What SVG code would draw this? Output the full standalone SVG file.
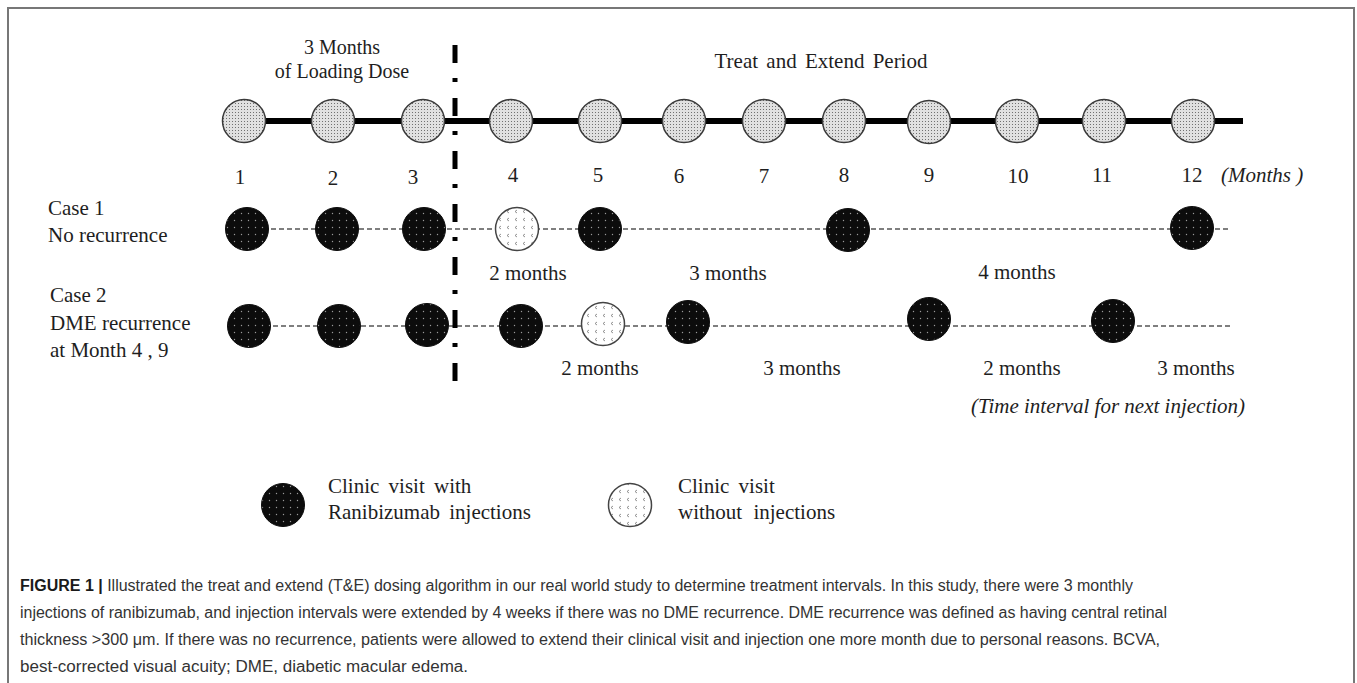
<svg xmlns="http://www.w3.org/2000/svg" width="1357" height="683" viewBox="0 0 1357 683">
<defs>
<pattern id="pLight" width="3" height="3" patternUnits="userSpaceOnUse">
<rect width="3" height="3" fill="#e0e0e0"/>
<rect x="1" y="1" width="1" height="1" fill="#707070"/>
</pattern>
<pattern id="pDark" width="7" height="7" patternUnits="userSpaceOnUse">
<rect width="7" height="7" fill="#0c0c0c"/>
<circle cx="3.5" cy="3.5" r="0.7" fill="#9a9a9a"/>
</pattern>
<pattern id="pHollow" width="8" height="8" patternUnits="userSpaceOnUse">
<rect width="8" height="8" fill="#fff"/>
<path d="M5,2 L3,3.5 L5,5" fill="none" stroke="#777" stroke-width="0.8"/>
</pattern>
</defs>
<style>
.t{font-family:"Liberation Serif","Times New Roman",serif;font-size:21px;fill:#1e1e1e}
.ti{font-family:"Liberation Serif","Times New Roman",serif;font-size:21px;font-style:italic;fill:#1e1e1e}
.hd{font-size:20px}
.cap{font-family:"Liberation Sans",Arial,sans-serif;font-size:16px;fill:#333}
.capb{font-weight:bold;fill:#1a1a1a}
.lt{fill:url(#pLight);stroke:#3a3a3a;stroke-width:1.5}
.dk{fill:url(#pDark);stroke:#0c0c0c;stroke-width:1}
.ho{fill:url(#pHollow);stroke:#444;stroke-width:1.5}
.thick{stroke:#000;stroke-width:6;fill:none}
.dash{stroke:#555;stroke-width:1.5;stroke-dasharray:5 3;fill:none}
.sep{stroke:#000;stroke-width:5;stroke-dasharray:18 15 4 16;fill:none}
</style>
<rect width="1357" height="683" fill="#fff"/>
<path d="M8,683 V8 H1354 V683" fill="none" stroke="#777" stroke-width="2"/>

<g id="connectors">
<line class="thick" x1="244" y1="121" x2="1243" y2="121"/>
<line class="dash" x1="247" y1="229" x2="1230" y2="229"/>
<line class="dash" x1="249" y1="326" x2="1230" y2="326"/>
<line class="sep" x1="455" y1="45" x2="455" y2="395"/>
</g>

<g id="headers">
<text class="t hd" x="342" y="54" text-anchor="middle">3 Months</text>
<text class="t hd" x="342" y="78" text-anchor="middle">of Loading  Dose</text>
<text class="t" x="821" y="68" text-anchor="middle" style="word-spacing:3px">Treat  and Extend  Period</text>
</g>

<g id="timeline">
<circle class="lt" cx="244" cy="121" r="21.5"/>
<circle class="lt" cx="333" cy="121" r="21.5"/>
<circle class="lt" cx="423" cy="121" r="21.5"/>
<circle class="lt" cx="511" cy="121" r="21.5"/>
<circle class="lt" cx="600" cy="121" r="21.5"/>
<circle class="lt" cx="684" cy="121" r="21.5"/>
<circle class="lt" cx="764" cy="121" r="21.5"/>
<circle class="lt" cx="844" cy="121" r="21.5"/>
<circle class="lt" cx="929" cy="122" r="21.5"/>
<circle class="lt" cx="1017" cy="121" r="21.5"/>
<circle class="lt" cx="1104" cy="121" r="21.5"/>
<circle class="lt" cx="1193" cy="121" r="21.5"/>
</g>

<g id="month-labels">
<text class="t" x="240" y="184" text-anchor="middle">1</text>
<text class="t" x="333" y="185" text-anchor="middle">2</text>
<text class="t" x="413" y="184" text-anchor="middle">3</text>
<text class="t" x="513" y="182" text-anchor="middle">4</text>
<text class="t" x="598" y="182" text-anchor="middle">5</text>
<text class="t" x="679" y="183" text-anchor="middle">6</text>
<text class="t" x="764" y="183" text-anchor="middle">7</text>
<text class="t" x="844" y="182" text-anchor="middle">8</text>
<text class="t" x="929" y="182" text-anchor="middle">9</text>
<text class="t" x="1018" y="183" text-anchor="middle">10</text>
<text class="t" x="1102" y="182" text-anchor="middle">11</text>
<text class="t" x="1192" y="182" text-anchor="middle">12</text>
<text class="ti" x="1221" y="182">(Months )</text>
</g>

<g id="case1">
<text class="t" x="48" y="215">Case 1</text>
<text class="t" x="48" y="242">No recurrence</text>
<circle class="dk" cx="247" cy="229" r="21.5"/>
<circle class="dk" cx="337" cy="229" r="21.5"/>
<circle class="dk" cx="424" cy="229" r="21.5"/>
<circle class="ho" cx="517" cy="229" r="21.5"/>
<circle class="dk" cx="600" cy="229" r="21.5"/>
<circle class="dk" cx="848" cy="230" r="21.5"/>
<circle class="dk" cx="1192" cy="228" r="21.5"/>
<text class="t" x="528" y="280" text-anchor="middle">2 months</text>
<text class="t" x="728" y="280" text-anchor="middle">3 months</text>
<text class="t" x="1017" y="279" text-anchor="middle">4 months</text>
</g>

<g id="case2">
<text class="t" x="50" y="302">Case 2</text>
<text class="t" x="50" y="330">DME  recurrence</text>
<text class="t" x="50" y="357">at Month  4 , 9</text>
<circle class="dk" cx="249" cy="326" r="21.5"/>
<circle class="dk" cx="339" cy="326" r="21.5"/>
<circle class="dk" cx="427" cy="325" r="21.5"/>
<circle class="dk" cx="521" cy="326" r="21.5"/>
<circle class="ho" cx="603" cy="324" r="21.5"/>
<circle class="dk" cx="688" cy="322" r="21.5"/>
<circle class="dk" cx="929" cy="319" r="21.5"/>
<circle class="dk" cx="1113" cy="321" r="21.5"/>
<text class="t" x="600" y="375" text-anchor="middle">2 months</text>
<text class="t" x="802" y="375" text-anchor="middle">3 months</text>
<text class="t" x="1022" y="375" text-anchor="middle">2 months</text>
<text class="t" x="1196" y="375" text-anchor="middle">3 months</text>
<text class="ti" x="1108" y="413" text-anchor="middle">(Time interval for  next injection)</text>
</g>

<g id="legend-injection">
<circle class="dk" cx="283" cy="505" r="21.5"/>
<text class="t" x="328" y="493" style="word-spacing:4px">Clinic visit with</text>
<text class="t" x="328" y="519" style="word-spacing:4px">Ranibizumab injections</text>
</g>
<g id="legend-no-injection">
<circle class="ho" cx="630" cy="505" r="21.5"/>
<text class="t" x="678" y="493" style="word-spacing:4px">Clinic visit</text>
<text class="t" x="678" y="519" style="word-spacing:6px">without injections</text>
</g>

<g id="caption">
<text class="cap" x="20" y="591" textLength="1113" lengthAdjust="spacingAndGlyphs"><tspan class="capb">FIGURE 1 |</tspan> Illustrated the treat and extend (T&amp;E) dosing algorithm in our real world study to determine treatment intervals. In this study, there were 3 monthly</text>
<text class="cap" x="20" y="618" textLength="1147" lengthAdjust="spacingAndGlyphs">injections of ranibizumab, and injection intervals were extended by 4 weeks if there was no DME recurrence. DME recurrence was defined as having central retinal</text>
<text class="cap" x="20" y="645" textLength="1140" lengthAdjust="spacingAndGlyphs">thickness &gt;300 μm. If there was no recurrence, patients were allowed to extend their clinical visit and injection one more month due to personal reasons. BCVA,</text>
<text class="cap" x="20" y="672" textLength="448" lengthAdjust="spacingAndGlyphs">best-corrected visual acuity; DME, diabetic macular edema.</text>
</g>
</svg>
